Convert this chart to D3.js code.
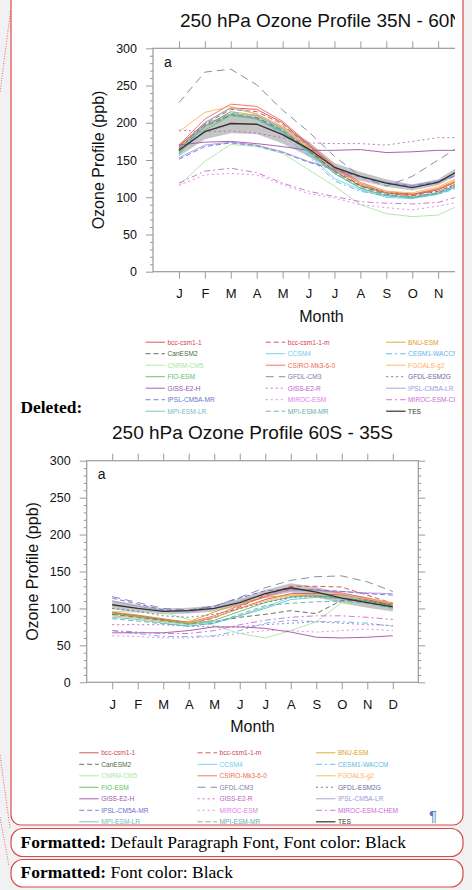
<!DOCTYPE html>
<html lang="en">
<head>
<meta charset="UTF-8">
<title>250 hPa Ozone Profile</title>
<script src="https://d3js.org/d3.v7.min.js"></script>
<style>
    body { margin: 0; background: #f1f1f1; }
    svg { display: block; }
    .sans { font-family: "Liberation Sans", Arial, Helvetica, sans-serif; }
    .serif { font-family: "Liberation Serif", "Times New Roman", serif; }
</style>
</head>
<body>
<svg id="page" width="472" height="890"></svg>
<script>
// ---- data (ppb, Jan..Dec) ----
var months = ["J", "F", "M", "A", "M", "J", "J", "A", "S", "O", "N", "D"];
var yTicks = [0, 50, 100, 150, 200, 250, 300];

var modelNames = ["bcc-csm1-1", "bcc-csm1-1-m", "BNU-ESM", "CanESM2", "CCSM4", "CESM1-WACCM",
    "CNRM-CM5", "CSIRO-Mk3-6-0", "FGOALS-g2", "FIO-ESM", "GFDL-CM3", "GFDL-ESM2G",
    "GISS-E2-H", "GISS-E2-R", "IPSL-CM5A-LR", "IPSL-CM5A-MR", "MIROC-ESM", "MIROC-ESM-CHEM",
    "MPI-ESM-LR", "MPI-ESM-MR", "TES"];

// 35N - 60N, one row per model in modelNames order (TES last)
var north = [
    [168, 200, 220, 218, 200, 170, 140, 118, 106, 103, 110, 125],
    [165, 198, 218, 215, 198, 168, 138, 116, 105, 102, 108, 122],
    [166, 195, 215, 210, 192, 165, 135, 115, 106, 104, 112, 128],
    [162, 195, 210, 207, 190, 163, 135, 115, 104, 100, 106, 120],
    [160, 200, 220, 212, 190, 158, 125, 110, 100, 98, 104, 118],
    [158, 195, 215, 205, 185, 155, 122, 108, 102, 100, 104, 115],
    [116, 148, 171, 168, 159, 137, 115, 90, 78, 74, 76, 92],
    [170, 205, 225, 222, 202, 172, 142, 120, 108, 104, 111, 126],
    [188, 214, 222, 212, 195, 168, 138, 118, 108, 106, 114, 130],
    [160, 190, 210, 205, 188, 162, 132, 112, 102, 100, 106, 120],
    [227, 268, 272, 251, 217, 188, 155, 128, 115, 128, 150, 172],
    [165, 198, 212, 205, 188, 163, 135, 116, 106, 104, 108, 122],
    [170, 174, 175, 172, 168, 163, 163, 164, 160, 161, 163, 163],
    [190, 188, 189, 186, 180, 173, 172, 172, 170, 175, 180, 180],
    [153, 170, 174, 170, 161, 148, 138, 128, 120, 116, 122, 133],
    [151, 168, 173, 169, 160, 147, 137, 127, 119, 115, 121, 132],
    [116, 130, 132, 130, 117, 105, 99, 90, 86, 83, 88, 95],
    [119, 135, 139, 133, 119, 108, 101, 94, 92, 91, 93, 103],
    [162, 195, 212, 205, 187, 160, 132, 112, 102, 99, 105, 118],
    [163, 196, 213, 206, 188, 161, 133, 113, 103, 100, 106, 119],
    [163, 188, 199, 198, 184, 165, 140, 128, 119, 113, 120, 140]
];
var northSpread = [8, 10, 13, 13, 12, 10, 6, 6, 5, 4, 4, 6];

// 60S - 35S
var south = [
    [94, 90, 85, 80, 88, 100, 112, 120, 120, 118, 112, 104],
    [92, 88, 84, 79, 87, 102, 118, 130, 130, 129, 118, 107],
    [93, 89, 84, 82, 95, 107, 115, 118, 117, 115, 110, 104],
    [92, 88, 84, 79, 82, 88, 92, 97, 93, 111, 110, 104],
    [90, 87, 82, 78, 82, 90, 102, 115, 118, 115, 110, 102],
    [70, 66, 62, 62, 63, 70, 80, 84, 82, 82, 80, 76],
    [96, 95, 95, 85, 77, 66, 60, 70, 82, 108, 108, 103],
    [95, 91, 86, 81, 90, 104, 116, 126, 125, 121, 114, 106],
    [91, 87, 82, 80, 88, 100, 110, 118, 119, 117, 113, 108],
    [93, 89, 84, 79, 84, 96, 108, 116, 117, 114, 110, 103],
    [116, 108, 100, 98, 103, 115, 128, 138, 143, 144, 136, 123],
    [100, 96, 90, 88, 92, 100, 108, 115, 116, 114, 110, 104],
    [67, 67, 67, 70, 75, 75, 73, 68, 61, 60, 61, 63],
    [78, 78, 78, 76, 75, 75, 78, 80, 82, 80, 78, 77],
    [110, 103, 97, 95, 100, 110, 120, 124, 124, 123, 121, 120],
    [114, 106, 98, 97, 103, 114, 124, 126, 125, 123, 120, 118],
    [63, 62, 60, 60, 62, 66, 70, 70, 68, 70, 72, 70],
    [70, 68, 66, 66, 70, 78, 84, 88, 90, 90, 88, 85],
    [88, 85, 80, 76, 80, 90, 100, 112, 115, 113, 108, 102],
    [86, 83, 79, 76, 80, 92, 104, 107, 109, 110, 107, 100],
    [105, 100, 96, 97, 100, 108, 120, 128, 122, 114, 108, 102]
];
var southSpread = [6, 5, 4, 4, 4, 5, 5, 6, 7, 7, 7, 6];

// ---- line styles, same order as modelNames ----
var lineColors = ["#d64550", "#d64550", "#e0a020", "#4a6a4a", "#6ccbef", "#58b8e0",
    "#a8e6a0", "#f06a50", "#ffb060", "#60c060", "#7880a8", "#6a6a9a",
    "#a050a8", "#c060c8", "#a098e0", "#7070d0", "#e080e8", "#d068d8",
    "#70c0b8", "#60b0a8", "#333333"];
var lineDashes = [null, "5,3", null, "5,3", null, "6,3,2,3",
    null, null, null, null, "8,5", "2,3",
    null, "2,3", null, "5,3", "2,3", "6,3,2,3",
    null, "5,3", null];

var svg = d3.select("#page");

// word page boxes
svg.append("rect").attr("x", 11).attr("y", -10).attr("width", 452).attr("height", 835)
    .attr("rx", 10).attr("fill", "#fff").attr("stroke", "#d94a4a").attr("stroke-width", 1.2);
svg.append("rect").attr("x", 11).attr("y", 828.5).attr("width", 452).attr("height", 28)
    .attr("rx", 12).attr("fill", "#fff").attr("stroke", "#d94a4a").attr("stroke-width", 1.2);
svg.append("rect").attr("x", 11).attr("y", 859.5).attr("width", 452).attr("height", 27.5)
    .attr("rx", 12).attr("fill", "#fff").attr("stroke", "#d94a4a").attr("stroke-width", 1.2);

[[10.5, 11, 0, 93], [0, 755, 10, 828], [0, 817, 9, 866]].forEach(function(l) {
    svg.append("line").attr("x1", l[0]).attr("y1", l[1]).attr("x2", l[2]).attr("y2", l[3])
        .attr("stroke", "#d94a4a").attr("stroke-width", 0.8).attr("stroke-dasharray", "1,1.5");
});

svg.append("text").attr("class", "serif").attr("x", 20.5).attr("y", 412.5)
    .attr("font-size", 17.4).attr("font-weight", "bold").text("Deleted:");

var f1 = svg.append("text").attr("class", "serif").attr("x", 20.5).attr("y", 848.3).attr("font-size", 17.5);
f1.append("tspan").attr("font-weight", "bold").text("Formatted:");
f1.append("tspan").text(" Default Paragraph Font, Font color: Black");
var f2 = svg.append("text").attr("class", "serif").attr("x", 20.5).attr("y", 878.3).attr("font-size", 17.5);
f2.append("tspan").attr("font-weight", "bold").text("Formatted:");
f2.append("tspan").text(" Font color: Black");

svg.append("defs").append("clipPath").attr("id", "pageClip")
    .append("rect").attr("x", 11).attr("y", 0).attr("width", 444).attr("height", 824);
var content = svg.append("g").attr("clip-path", "url(#pageClip)");

function drawChart(cfg) {
    var g = content.append("g").attr("class", "sans");
    var x = d3.scaleLinear().domain([0, 13]).range([cfg.left, cfg.left + cfg.width]);
    var y = d3.scaleLinear().domain([0, 300]).range([cfg.top + cfg.height, cfg.top]);
    var tes = cfg.values[cfg.values.length - 1];

    // spread band round TES
    var band = d3.area()
        .x(function(d, i) { return x(i + 1); })
        .y0(function(d, i) { return y(d - cfg.spread[i]); })
        .y1(function(d, i) { return y(d + cfg.spread[i]); });
    g.append("path").datum(tes).attr("d", band).attr("fill", "#adadad").attr("opacity", 0.7);

    var line = d3.line()
        .x(function(d, i) { return x(i + 1); })
        .y(function(d) { return y(d); });

    g.selectAll("path.model")
        .data(cfg.values)
        .enter().append("path")
        .attr("class", "model")
        .attr("d", line)
        .attr("fill", "none")
        .attr("stroke", function(d, i) { return lineColors[i]; })
        .attr("stroke-width", function(d, i) { return i === cfg.values.length - 1 ? 1.3 : 0.9; })
        .attr("stroke-dasharray", function(d, i) { return lineDashes[i]; });

    // frame + ticks
    var minor = d3.range(0, 301, 10).filter(function(v) { return v % 50 !== 0; });
    function styleAxis(sel) {
        sel.select(".domain").remove();
        sel.selectAll("line").attr("stroke", "#9a9a9a");
        sel.selectAll("text").attr("fill", "#111").attr("font-family", null);
    }
    g.append("g").attr("transform", "translate(" + cfg.left + ",0)")
        .call(d3.axisLeft(y).tickValues(yTicks).tickSize(7).tickPadding(9))
        .call(styleAxis).attr("font-size", 12.5);
    g.append("g").attr("transform", "translate(" + cfg.left + ",0)")
        .call(d3.axisLeft(y).tickValues(minor).tickSize(3).tickFormat(""))
        .call(styleAxis);
    g.append("g").attr("transform", "translate(" + (cfg.left + cfg.width) + ",0)")
        .call(d3.axisRight(y).tickValues(yTicks).tickSize(7).tickFormat(""))
        .call(styleAxis);
    g.append("g").attr("transform", "translate(" + (cfg.left + cfg.width) + ",0)")
        .call(d3.axisRight(y).tickValues(minor).tickSize(3).tickFormat(""))
        .call(styleAxis);
    g.append("g").attr("transform", "translate(0," + cfg.top + ")")
        .call(d3.axisTop(x).tickValues(d3.range(1, 13)).tickSize(7).tickFormat(""))
        .call(styleAxis);
    g.append("g").attr("transform", "translate(0," + (cfg.top + cfg.height) + ")")
        .call(d3.axisBottom(x).tickValues(d3.range(1, 13)).tickSize(7).tickPadding(10)
            .tickFormat(function(d) { return months[d - 1]; }))
        .call(styleAxis).attr("font-size", 13);

    g.append("rect").attr("x", cfg.left).attr("y", cfg.top)
        .attr("width", cfg.width).attr("height", cfg.height)
        .attr("fill", "none").attr("stroke", "#9a9a9a").attr("stroke-width", 1.2);

    var cx = cfg.left + cfg.width / 2;
    g.append("text").attr("x", cx).attr("y", cfg.top - 21.5).attr("text-anchor", "middle")
        .attr("font-size", 19).attr("fill", "#111").text(cfg.title);
    g.append("text").attr("x", cx).attr("y", cfg.top + cfg.height + 50).attr("text-anchor", "middle")
        .attr("font-size", 16).attr("fill", "#111").text("Month");
    g.append("text")
        .attr("transform", "translate(" + (cfg.left - 49) + "," + (cfg.top + cfg.height / 2) + ") rotate(-90)")
        .attr("text-anchor", "middle").attr("font-size", 16).attr("fill", "#111")
        .text("Ozone Profile (ppb)");
    g.append("text").attr("x", cfg.left + 11).attr("y", cfg.top + 18.5)
        .attr("font-size", 14).attr("fill", "#111").text("a");

    // legend, three columns
    var colStep = cfg.width * 0.357;
    var leg = g.selectAll("g.leg")
        .data(modelNames)
        .enter().append("g")
        .attr("class", "leg")
        .attr("transform", function(d, i) {
            return "translate(" + (cfg.left - 7.5 + (i % 3) * colStep) + "," +
                (cfg.top + cfg.height + 70.5 + Math.floor(i / 3) * 11.5) + ")";
        });
    leg.append("line").attr("x1", 0).attr("x2", 19.5)
        .attr("stroke", function(d, i) { return lineColors[i]; })
        .attr("stroke-width", function(d, i) { return i === modelNames.length - 1 ? 1.2 : 0.9; })
        .attr("stroke-dasharray", function(d, i) { return lineDashes[i]; });
    leg.append("text").attr("x", 22).attr("dy", "0.35em").attr("font-size", 6.6)
        .attr("fill", function(d, i) { return lineColors[i]; })
        .text(function(d) { return d; });
}

drawChart({ left: 153, top: 48.3, width: 337, height: 223.4,
    title: "250 hPa Ozone Profile 35N - 60N", values: north, spread: northSpread });
drawChart({ left: 86.7, top: 460.7, width: 331.6, height: 221.6,
    title: "250 hPa Ozone Profile 60S - 35S", values: south, spread: southSpread });

content.append("text").attr("x", 429).attr("y", 821).attr("font-size", 15)
    .attr("font-family", "Liberation Sans, Arial, sans-serif").attr("fill", "#4f81bd").text("\u00b6");
</script>
</body>
</html>
